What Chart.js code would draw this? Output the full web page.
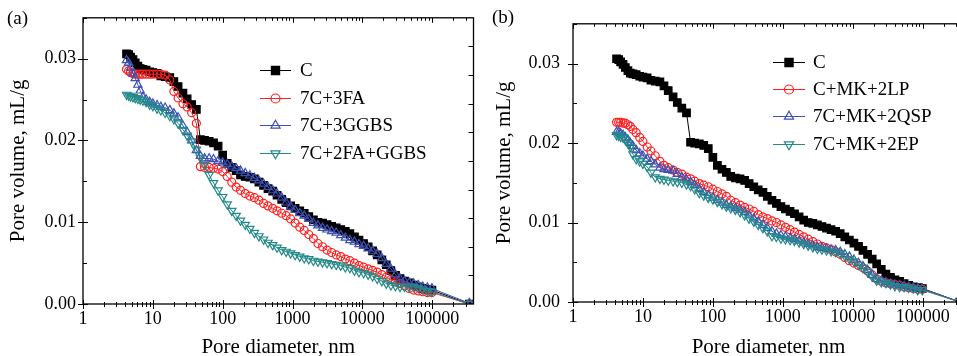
<!DOCTYPE html>
<html>
<head>
<meta charset="utf-8">
<script src="https://cdn.jsdelivr.net/npm/chart.js@4.4.0/dist/chart.umd.min.js"></script>
<style>
    html, body { margin: 0; padding: 0; background: #fff; width: 957px; height: 356px; overflow: hidden; position: relative; }
    canvas { position: absolute; top: 0; }
    #panelA { left: 0; }
    #panelB { left: 480px; }
    .tag { position: absolute; font: 19px 'Liberation Serif', serif; line-height: 19px; color: #000; }
</style>
</head>
<body>
<canvas id="panelA" width="480" height="356"></canvas>
<canvas id="panelB" width="500" height="356"></canvas>
<div class="tag" style="left:7px; top:8px;">(a)</div>
<div class="tag" style="left:492px; top:7px;">(b)</div>
<script>
// Pore diameters (nm) shared by all curves
const diameters = [
    4.2, 4.5, 4.8, 5.2, 5.6, 6.1, 6.6, 7.2, 8.0, 9.0,
    10, 11.5, 13, 15, 17.5, 20, 23, 27, 31, 36,
    42, 48, 55, 64, 74, 86, 100, 116, 135, 156,
    180, 210, 245, 285, 330, 385, 445, 520, 600, 700,
    810, 940, 1090, 1270, 1470, 1710, 1990, 2310, 2690, 3120,
    3630, 4220, 4900, 5700, 6620, 7700, 8950, 10400, 12100, 14000,
    16300, 19000, 22000, 25600, 29800, 34600, 40200, 46700, 54300, 63100,
    73300, 85200, 99000, 340000
];

// Cumulative pore volume (mL/g)
const controlC = [
    0.0306, 0.0305, 0.0302, 0.0299, 0.0295, 0.0291, 0.0288, 0.0287, 0.0286, 0.0284,
    0.0283, 0.0282, 0.0279, 0.0278, 0.0277, 0.0272, 0.0266, 0.0258, 0.0251, 0.0244,
    0.0238, 0.0201, 0.0200, 0.0199, 0.0197, 0.0193, 0.0182, 0.0172, 0.0167, 0.0163,
    0.0158, 0.0156, 0.0155, 0.0153, 0.0149, 0.0145, 0.0141, 0.0138, 0.0133, 0.0128,
    0.0124, 0.0120, 0.0117, 0.0114, 0.0111, 0.0107, 0.0103, 0.0100, 0.0099, 0.0097,
    0.0095, 0.0093, 0.0091, 0.0089, 0.0086, 0.0082, 0.0078, 0.0074, 0.0070, 0.0065,
    0.0060, 0.0054, 0.0048, 0.0041, 0.0035, 0.0031, 0.0028, 0.0026, 0.0023, 0.0021,
    0.0019, 0.0018, 0.0017, 0
];
const mix3FA = [
    0.0287, 0.0285, 0.0283, 0.0282, 0.0281, 0.0281, 0.0281, 0.0281, 0.0281, 0.0281,
    0.0281, 0.0281, 0.0281, 0.0280, 0.0274, 0.0260, 0.0252, 0.0245, 0.0241, 0.0234,
    0.0221, 0.0168, 0.0167, 0.0167, 0.0166, 0.0165, 0.0162, 0.0156, 0.0149, 0.0143,
    0.0139, 0.0135, 0.0132, 0.0130, 0.0127, 0.0123, 0.0120, 0.0117, 0.0114, 0.0111,
    0.0108, 0.0104, 0.0099, 0.0094, 0.0090, 0.0085, 0.0080, 0.0074, 0.0070, 0.0066,
    0.0063, 0.0060, 0.0058, 0.0055, 0.0053, 0.0050, 0.0047, 0.0045, 0.0043, 0.0041,
    0.0039, 0.0036, 0.0033, 0.0030, 0.0027, 0.0025, 0.0022, 0.0019, 0.0017, 0.0016,
    0.0015, 0.0014, 0.0014, 0
];
const mix3GGBS = [
    0.0298, 0.0295, 0.0289, 0.0282, 0.0276, 0.0268, 0.0261, 0.0253, 0.0250, 0.0247,
    0.0245, 0.0243, 0.0241, 0.0240, 0.0237, 0.0233, 0.0228, 0.0218, 0.0210, 0.0200,
    0.0188, 0.0181, 0.0178, 0.0178, 0.0177, 0.0175, 0.0173, 0.0171, 0.0168, 0.0166,
    0.0163, 0.0160, 0.0157, 0.0154, 0.0151, 0.0147, 0.0143, 0.0139, 0.0135, 0.0130,
    0.0124, 0.0119, 0.0115, 0.0111, 0.0108, 0.0104, 0.0099, 0.0096, 0.0093, 0.0091,
    0.0089, 0.0087, 0.0084, 0.0081, 0.0078, 0.0076, 0.0073, 0.0071, 0.0068, 0.0065,
    0.0061, 0.0056, 0.0049, 0.0043, 0.0036, 0.0031, 0.0028, 0.0026, 0.0025, 0.0023,
    0.0021, 0.0020, 0.0019, 0.0001
];
const mix2FAGGBS = [
    0.0256, 0.0255, 0.0254, 0.0253, 0.0252, 0.0251, 0.0250, 0.0249, 0.0247, 0.0244,
    0.0242, 0.0239, 0.0237, 0.0234, 0.0230, 0.0226, 0.0221, 0.0213, 0.0206, 0.0199,
    0.0189, 0.0179, 0.0170, 0.0158, 0.0148, 0.0139, 0.0131, 0.0122, 0.0114, 0.0108,
    0.0102, 0.0097, 0.0092, 0.0087, 0.0083, 0.0079, 0.0075, 0.0072, 0.0069, 0.0066,
    0.0064, 0.0062, 0.0060, 0.0058, 0.0056, 0.0055, 0.0053, 0.0052, 0.0051, 0.0050,
    0.0049, 0.0048, 0.0047, 0.0045, 0.0044, 0.0041, 0.0039, 0.0038, 0.0036, 0.0034,
    0.0031, 0.0028, 0.0025, 0.0023, 0.0022, 0.0021, 0.0021, 0.0021, 0.0021, 0.0020,
    0.0018, 0.0016, 0.0015, 0
];
const mixMK2LP = [
    0.0226, 0.0226, 0.0226, 0.0225, 0.0225, 0.0223, 0.0221, 0.0217, 0.0213, 0.0207,
    0.0202, 0.0195, 0.0190, 0.0184, 0.0177, 0.0172, 0.0169, 0.0166, 0.0163, 0.0161,
    0.0157, 0.0155, 0.0152, 0.0149, 0.0147, 0.0145, 0.0142, 0.0139, 0.0136, 0.0133,
    0.0128, 0.0125, 0.0122, 0.0119, 0.0117, 0.0114, 0.0110, 0.0107, 0.0105, 0.0102,
    0.0100, 0.0097, 0.0094, 0.0091, 0.0088, 0.0085, 0.0082, 0.0079, 0.0076, 0.0073,
    0.0070, 0.0068, 0.0066, 0.0063, 0.0060, 0.0056, 0.0052, 0.0049, 0.0046, 0.0043,
    0.0039, 0.0034, 0.0029, 0.0026, 0.0024, 0.0023, 0.0022, 0.0021, 0.0019, 0.0018,
    0.0017, 0.0016, 0.0016, 0
];
const mixMK2QSP = [
    0.0214, 0.0214, 0.0212, 0.0210, 0.0207, 0.0204, 0.0200, 0.0196, 0.0191, 0.0187,
    0.0184, 0.0180, 0.0177, 0.0173, 0.0169, 0.0167, 0.0166, 0.0165, 0.0161, 0.0157,
    0.0154, 0.0151, 0.0147, 0.0142, 0.0138, 0.0134, 0.0131, 0.0128, 0.0125, 0.0122,
    0.0120, 0.0118, 0.0116, 0.0113, 0.0109, 0.0105, 0.0101, 0.0097, 0.0093, 0.0089,
    0.0086, 0.0084, 0.0082, 0.0080, 0.0079, 0.0077, 0.0075, 0.0073, 0.0071, 0.0069,
    0.0068, 0.0067, 0.0066, 0.0065, 0.0063, 0.0060, 0.0057, 0.0053, 0.0049, 0.0045,
    0.0040, 0.0034, 0.0029, 0.0027, 0.0025, 0.0023, 0.0022, 0.0021, 0.0020, 0.0019,
    0.0018, 0.0017, 0.0017, 0
];
const mixMK2EP = [
    0.0210, 0.0209, 0.0208, 0.0207, 0.0204, 0.0200, 0.0195, 0.0186, 0.0180, 0.0177,
    0.0174, 0.0170, 0.0163, 0.0157, 0.0155, 0.0154, 0.0153, 0.0152, 0.0151, 0.0150,
    0.0148, 0.0146, 0.0142, 0.0137, 0.0134, 0.0131, 0.0129, 0.0126, 0.0123, 0.0120,
    0.0118, 0.0116, 0.0113, 0.0109, 0.0105, 0.0101, 0.0097, 0.0093, 0.0089, 0.0083,
    0.0082, 0.0080, 0.0079, 0.0078, 0.0077, 0.0075, 0.0073, 0.0071, 0.0069, 0.0067,
    0.0066, 0.0065, 0.0064, 0.0063, 0.0061, 0.0058, 0.0054, 0.0051, 0.0047, 0.0043,
    0.0038, 0.0032, 0.0027, 0.0025, 0.0024, 0.0022, 0.0020, 0.0019, 0.0019, 0.0018,
    0.0017, 0.0015, 0.0015, 0
];

// Axis ticks
const xMajor = [1, 10, 100, 1000, 10000, 100000];
const xTickLabels = ['1', '10', '100', '1000', '10000', '100000'];
const yTickLabels = ['0.00', '0.01', '0.02', '0.03'];
const xTickValues = [];
xMajor.forEach(p => {
    for (let m = 1; m <= 9; m++) {
        if (m * p < 3.9e5) xTickValues.push(m * p);
    }
});

const colors = {
    black: '#000000',
    red: '#ff1f1f',
    blue: '#3d50b5',
    teal: '#238a8a'
};
const serif = "'Liberation Serif', 'Times New Roman', serif";
Chart.defaults.color = '#000';
Chart.defaults.font.family = serif;

function series(label, values, color, style, radius, rotation, fill, order) {
    return {
        label,
        data: diameters.map((d, i) => ({ x: d, y: values[i] })),
        borderColor: color,
        backgroundColor: fill,
        pointBackgroundColor: fill,
        pointBorderColor: color,
        pointStyle: style,
        pointRadius: radius,
        pointRotation: rotation,
        pointBorderWidth: 1.2,
        borderWidth: 1,
        tension: 0,
        order
    };
}

// Frame with Origin-style ticks on all four sides
const frameTicks = {
    id: 'frameTicks',
    afterDraw(chart) {
        const { ctx, chartArea: a, scales } = chart;
        ctx.save();
        ctx.strokeStyle = '#000';
        ctx.lineWidth = 1.3;
        ctx.strokeRect(a.left, a.top, a.right - a.left, a.bottom - a.top);
        ctx.lineWidth = 1;
        ctx.beginPath();
        scales.x.ticks.forEach(t => {
            const px = Math.round(scales.x.getPixelForValue(t.value)) + 0.5;
            const major = xMajor.includes(t.value);
            ctx.moveTo(px, a.bottom + (major ? 5 : 3));
            ctx.lineTo(px, a.bottom - (major ? 4 : 2));
        });
        scales.xTop.ticks.forEach(t => {
            const px = Math.round(scales.xTop.getPixelForValue(t.value)) + 0.5;
            const major = xMajor.includes(t.value);
            ctx.moveTo(px, a.top);
            ctx.lineTo(px, a.top + (major ? 5 : 3));
        });
        scales.y.ticks.forEach(t => {
            const py = Math.round(scales.y.getPixelForValue(t.value)) + 0.5;
            const k = Math.round(t.value / 0.01);
            const major = Math.abs(t.value - k * 0.01) < 1e-9;
            ctx.moveTo(a.left - (major ? 5 : 0), py);
            ctx.lineTo(a.left + (major ? 5 : 4), py);
        });
        scales.yR.ticks.forEach(t => {
            if (t.value <= 0 || t.value >= 10) return;
            const py = Math.round(scales.yR.getPixelForValue(t.value)) + 0.5;
            ctx.moveTo(a.right, py);
            ctx.lineTo(a.right - 5, py);
        });
        ctx.stroke();
        ctx.restore();
    }
};

// Legend drawn inside the plot, line + marker + label
const boxLegend = {
    id: 'boxLegend',
    afterDraw(chart, args, opts) {
        const { ctx, chartArea: a } = chart;
        const x0 = a.left + opts.dx;
        chart.data.datasets.forEach((ds, i) => {
            const y = Math.round(a.top + opts.dy + i * opts.step) + 0.5;
            ctx.save();
            ctx.strokeStyle = ds.borderColor;
            ctx.lineWidth = 1;
            ctx.beginPath();
            ctx.moveTo(x0, y);
            ctx.lineTo(x0 + opts.len, y);
            ctx.stroke();
            ctx.fillStyle = ds.pointBackgroundColor;
            ctx.lineWidth = 1.2;
            Chart.helpers.drawPoint(ctx, {
                pointStyle: ds.pointStyle,
                radius: ds.pointRadius + 0.5,
                rotation: ds.pointRotation,
                borderWidth: 1.2
            }, x0 + opts.len / 2, y);
            ctx.fillStyle = '#000';
            ctx.font = '19px ' + serif;
            ctx.textBaseline = 'middle';
            ctx.fillText(ds.label, x0 + opts.len + opts.gap, y + 1);
            ctx.restore();
        });
    }
};

function buildPanel(id, datasets, geom) {
    return new Chart(document.getElementById(id), {
        type: 'line',
        data: { datasets },
        plugins: [frameTicks, boxLegend],
        options: {
            responsive: false,
            animation: false,
            events: [],
            layout: { padding: 0 },
            plugins: {
                legend: { display: false },
                tooltip: { enabled: false },
                boxLegend: geom.legend
            },
            scales: {
                x: {
                    type: 'logarithmic',
                    position: 'bottom',
                    min: 1,
                    max: 3.9e5,
                    afterBuildTicks: s => { s.ticks = xTickValues.map(v => ({ value: v })); },
                    grid: { display: false, drawTicks: false },
                    border: { display: false },
                    ticks: {
                        autoSkip: false,
                        maxRotation: 0,
                        padding: 4,
                        font: { size: 18 },
                        callback: v => {
                            const k = xMajor.indexOf(v);
                            return k >= 0 ? xTickLabels[k] : '';
                        }
                    },
                    title: {
                        display: true,
                        text: 'Pore diameter, nm',
                        font: { size: 21, lineHeight: 0.8 },
                        padding: 0
                    },
                    afterFit: s => { s.height = geom.bottom; }
                },
                xTop: {
                    type: 'logarithmic',
                    position: 'top',
                    min: 1,
                    max: 3.9e5,
                    afterBuildTicks: s => { s.ticks = xTickValues.map(v => ({ value: v })); },
                    grid: { display: false, drawTicks: false },
                    border: { display: false },
                    ticks: { display: false },
                    afterFit: s => { s.height = geom.top; }
                },
                y: {
                    type: 'linear',
                    position: 'left',
                    min: 0,
                    max: 0.035,
                    grid: { display: false, drawTicks: false },
                    border: { display: false },
                    ticks: {
                        stepSize: 0.005,
                        padding: geom.yPad,
                        font: { size: 18 },
                        callback: v => {
                            const k = Math.round(v / 0.01);
                            return Math.abs(v - k * 0.01) < 1e-9 ? yTickLabels[k] : '';
                        }
                    },
                    title: {
                        display: true,
                        text: 'Pore volume, mL/g',
                        font: { size: 21 },
                        padding: { top: geom.titlePad, bottom: 0 }
                    },
                    afterFit: s => { s.width = geom.left; }
                },
                yR: {
                    type: 'linear',
                    position: 'right',
                    min: 0,
                    max: 10,
                    grid: { display: false, drawTicks: false },
                    border: { display: false },
                    ticks: { display: false, stepSize: 1 },
                    afterFit: s => { s.width = geom.right; }
                }
            }
        }
    });
}

buildPanel('panelA', [
    series('C', controlC, colors.black, 'rect', 5.3, 0, colors.black, 4),
    series('7C+3FA', mix3FA, colors.red, 'circle', 4, 0, 'rgba(0,0,0,0)', 3),
    series('7C+3GGBS', mix3GGBS, colors.blue, 'triangle', 4.8, 0, 'rgba(0,0,0,0)', 2),
    series('7C+2FA+GGBS', mix2FAGGBS, colors.teal, 'triangle', 4.8, 180, 'rgba(0,0,0,0)', 1)
], {
    left: 83, right: 6, top: 17, bottom: 52, yPad: 7, titlePad: 6,
    legend: { dx: 177, dy: 52, step: 27.7, len: 31, gap: 9 }
});

buildPanel('panelB', [
    series('C', controlC, colors.black, 'rect', 5.3, 0, colors.black, 4),
    series('C+MK+2LP', mixMK2LP, colors.red, 'circle', 4, 0, 'rgba(0,0,0,0)', 3),
    series('7C+MK+2QSP', mixMK2QSP, colors.blue, 'triangle', 4.8, 0, 'rgba(0,0,0,0)', 2),
    series('7C+MK+2EP', mixMK2EP, colors.teal, 'triangle', 4.8, 180, 'rgba(0,0,0,0)', 1)
], {
    left: 93, right: 16, top: 15, bottom: 54, yPad: 13, titlePad: 12,
    legend: { dx: 200, dy: 38, step: 27.3, len: 32, gap: 8 }
});
</script>
</body>
</html>
